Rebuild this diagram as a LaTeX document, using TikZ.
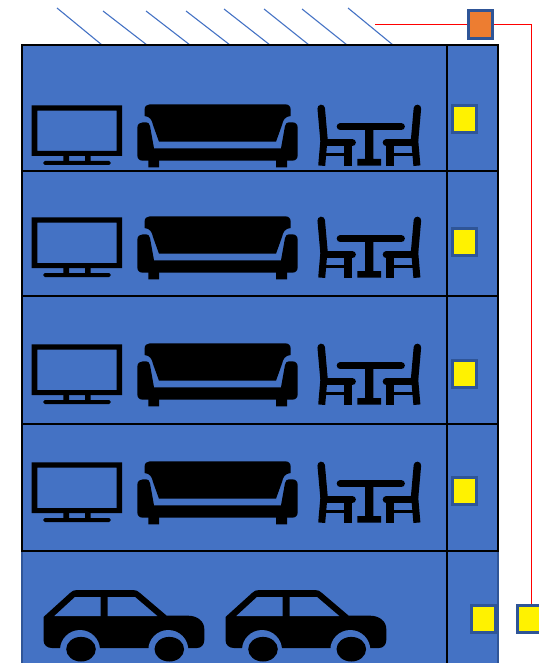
\documentclass[tikz,border=0pt]{standalone}
\definecolor{wallblue}{HTML}{4472C4}
\definecolor{edgeblue}{HTML}{2F5597}
\definecolor{boxorange}{HTML}{ED7D31}

\begin{document}
\begin{tikzpicture}[x=1pt, y=-1pt,
    floor line/.style={black, line width=2pt},
    hatch/.style={wallblue, line width=1.1pt},
    wire/.style={red, line width=1.1pt},
    switch/.style={draw=edgeblue, fill=yellow, line width=2.6pt, inner sep=0pt,
      minimum width=24pt, minimum height=27.5pt},
    hub box/.style={switch, fill=boxorange}]
  \useasboundingbox (0,0) rectangle (538,663);

  % === Building ===
  % Parking level first, the flats go over it
  \fill[wallblue] (22,551) rectangle (498,663);
  \draw[edgeblue, line width=1.8pt] (22,663) -- (22,551) -- (498,551) -- (498,663);
  \fill[wallblue] (22,45) rectangle (498,551);

  % Hatching above the roof
  \foreach \xa/\ya/\xb in {57/8/102, 103/11/147, 146/11/190, 186/11/230,
      224/9/270, 264/9/309, 302/9/347, 348/8/393} {
    \draw[hatch] (\xa,\ya) -- (\xb,45);
  }

  % === Furniture on each floor ===
  \foreach \dy in {0,112,239,357} {
    \begin{scope}[shift={(0,\dy)}]
      % TV
      \fill[even odd rule] (31.7,105.3) rectangle (122,156) (37.3,110.7) rectangle (116.7,151);
      \fill (63.3,156) rectangle (69,161) (85,156) rectangle (90.7,161);
      \fill[rounded corners=1.5pt] (43.3,161) rectangle (110.7,165);

      % Sofa: back, seat with arms, feet
      \fill (144.5,116) -- (144.5,110) .. controls (144.5,106) and (147,104.3) .. (150,104.3)
        -- (285,104.3) .. controls (288.5,104.3) and (290.7,106) .. (290.7,110) -- (290.7,116)
        .. controls (285,116.5) and (283,120) .. (282,125) -- (276,141.7) -- (159,141.7) -- (153,125)
        .. controls (152,120) and (150,116.5) .. (144.5,116) -- cycle;
      \fill (137.3,128) .. controls (137.3,124) and (140,122.3) .. (143,122.3) -- (146,122.3)
        .. controls (148,122.3) and (149.5,123.5) .. (150,126) -- (154,148.3) -- (281,148.3) -- (285,126)
        .. controls (285.5,123.5) and (287,122.3) .. (289,122.3) -- (292,122.3)
        .. controls (295.5,122.3) and (297.7,124) .. (297.7,128) -- (297.7,155)
        .. controls (297.7,159) and (295.5,160.7) .. (292,160.7) -- (143,160.7)
        .. controls (139.5,160.7) and (137.3,159) .. (137.3,155) -- cycle;
      \fill (148.3,160) rectangle (159,167.3) (276,160) rectangle (287,167.3);

      % Table
      \draw[line width=7.2pt, line cap=round] (340.3,126.7) -- (401.3,126.7);
      \fill (365,126.7) rectangle (373.3,165.7) (357.3,159) rectangle (381,165.7);

      % Two chairs, the second one mirrored
      \foreach \side in {1,-1} {
        \begin{scope}[shift={(369.3,0)}, xscale=\side]
          \draw[line width=7.5pt, line cap=round] (-48.1,108.4) -- (-45.3,140);
          \draw[line width=7pt] (-45.3,139) -- (-47.6,165.7);
          \draw[line width=7.2pt, line cap=round] (-44,142.7) -- (-17,142.7);
          \draw[line width=8pt] (-21,143) -- (-21,165.7);
          \draw[line width=3.5pt] (-46,154.7) -- (-20,154.7);
        \end{scope}
      }
    \end{scope}
  }

  % === Two cars ===
  \foreach \dx in {0,182} {
    \begin{scope}[shift={(\dx,0)}]
      \fill (43.5,617) -- (70,593) .. controls (72,591) and (74,590) .. (77,590) -- (133,590)
        .. controls (136,590) and (138,591) .. (140,593) -- (166.7,615.7) -- (188.3,615.7)
        .. controls (197,615.7) and (204.3,621) .. (204.3,629) -- (204.3,640)
        .. controls (204.3,645) and (201,648) .. (197,648) -- (52,648)
        .. controls (47,648) and (43.5,645) .. (43.5,640) -- cycle;
      \fill[wallblue] (54.3,616) -- (75,597) -- (100.7,597) -- (100.7,616) -- cycle;
      \fill[wallblue] (107.7,597) -- (135,597) -- (157.3,616) -- (107.7,616) -- cycle;
      \foreach \wx in {80,168.3} {
        \fill[wallblue] (\wx,650) circle (20pt);
        \fill (\wx+1,649.2) ellipse (14.8pt and 12.3pt);
      }
    \end{scope}
  }

  % === Floors and riser ===
  \foreach \y in {171,296,424} {
    \draw[floor line] (22,\y) -- (498,\y);
  }
  \draw[black, line width=1.1pt] (447,45) -- (447,663);
  \draw[black, line width=2.4pt] (22,45) rectangle (498,551);

  % === Switches ===
  \foreach \name/\y in {switchA/119, switchB/242, switchC/374, switchD/491} {
    \node[switch] (\name) at (464.5,\y) {};
  }
  \node[switch] (switchE) at (483.7,619) {};
  \node[switch, minimum width=28.5pt] (outlet) at (531.5,619) {};
  \node[hub box] (hub) at (480.7,24.5) {};

  % Red feed through the hub
  \coordinate (feed) at (375,24.5);
  \draw[wire] (feed) -- (hub.west);
  \draw[wire] (hub.east) -| (outlet.north);
\end{tikzpicture}
\end{document}
